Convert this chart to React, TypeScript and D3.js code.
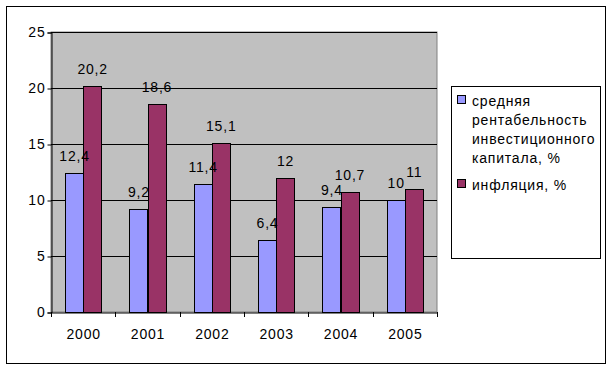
import React, { useEffect, useRef } from 'react';
import * as d3 from 'd3';

const years = ['2000', '2001', '2002', '2003', '2004', '2005'];
const returnOnCapital = [12.4, 9.2, 11.4, 6.4, 9.4, 10];
const inflation = [20.2, 18.6, 15.1, 12, 10.7, 11];
const yTicks = [0, 5, 10, 15, 20, 25];

const seriesNames = ['средняя рентабельность инвестиционного капитала, %', 'инфляция, %'];
const legendLines = [
  ['средняя', 'рентабельность', 'инвестиционного', 'капитала, %'],
  ['инфляция, %'],
];
const colors = ['#9999FF', '#993366'];

const fmt = (v: number) => String(v).replace('.', ',');

function App() {
  const ref = useRef<SVGSVGElement>(null);

  useEffect(() => {
    const svg = d3.select(ref.current);
    svg.selectAll('*').remove();

    const font = 'Liberation Sans, Arial, sans-serif';
    const spacing = 0.8;
    const plot = { left: 51, top: 32, right: 437, bottom: 312 };

    // outer chart frame
    svg.append('rect')
      .attr('x', 6.5).attr('y', 6.5)
      .attr('width', 599).attr('height', 357)
      .attr('fill', '#fff').attr('stroke', '#000').attr('stroke-width', 1);

    const x = d3.scaleBand().domain(years).range([plot.left, plot.right]);
    const y = d3.scaleLinear().domain([0, 25]).range([plot.bottom, plot.top]);
    const inner = d3.scaleBand().domain(['0', '1'])
      .range([0, x.bandwidth()]).paddingInner(0).paddingOuter(0.78);

    svg.append('rect')
      .attr('x', plot.left).attr('y', plot.top)
      .attr('width', plot.right - plot.left).attr('height', plot.bottom - plot.top)
      .attr('fill', '#C0C0C0').attr('stroke', '#808080');

    // gridlines
    svg.append('g').selectAll('line')
      .data(yTicks.filter((t) => t > 0))
      .enter().append('line')
      .attr('x1', plot.left).attr('x2', plot.right)
      .attr('y1', (d) => Math.round(y(d)) + 0.5).attr('y2', (d) => Math.round(y(d)) + 0.5)
      .attr('stroke', '#000');

    // axes
    const yAxis = svg.append('g').attr('transform', `translate(${plot.left + 0.5},0.5)`)
      .call(d3.axisLeft(y).tickValues(yTicks).tickSize(4).tickPadding(2).tickFormat((d) => String(d)));
    const xAxis = svg.append('g').attr('transform', `translate(0.5,${plot.bottom + 0.5})`)
      .call(d3.axisBottom(x).tickSize(0).tickPadding(17));
    [yAxis, xAxis].forEach((g) => {
      g.select('.domain').attr('stroke', '#000');
      g.selectAll('text').attr('font-family', font).attr('font-size', 14)
        .attr('letter-spacing', spacing).attr('fill', '#000');
    });
    // category separator ticks
    svg.append('g').selectAll('line')
      .data(years.map((yr) => x(yr) as number).concat([plot.right]))
      .enter().append('line')
      .attr('x1', (d) => Math.round(d) + 0.5).attr('x2', (d) => Math.round(d) + 0.5)
      .attr('y1', plot.bottom).attr('y2', plot.bottom + 5)
      .attr('stroke', '#000');

    const seriesData = [returnOnCapital, inflation];
    const barX = (i: number, s: number) => (x(years[i]) as number) + (inner(String(s)) as number);

    // bars first
    seriesData.forEach((vals, s) => {
      svg.append('g').selectAll('rect')
        .data(vals)
        .enter().append('rect')
        .attr('x', (_, i) => Math.round(barX(i, s)) + 0.5)
        .attr('y', (d) => Math.round(y(d)) + 0.5)
        .attr('width', Math.round(inner.bandwidth()))
        .attr('height', (d) => Math.round(y(0)) - Math.round(y(d)))
        .attr('fill', colors[s]).attr('stroke', '#000');
    });
    // then value labels on top
    seriesData.forEach((vals, s) => {
      svg.append('g').selectAll('text')
        .data(vals)
        .enter().append('text')
        .attr('x', (_, i) => barX(i, s) + inner.bandwidth() / 2 + spacing / 2)
        .attr('y', (d) => y(d) - 12)
        .attr('text-anchor', 'middle')
        .attr('font-family', font).attr('font-size', 14).attr('letter-spacing', spacing)
        .text((d) => fmt(d));
    });

    // legend
    const lg = svg.append('g');
    lg.append('rect')
      .attr('x', 451.5).attr('y', 86.5).attr('width', 149).attr('height', 172)
      .attr('fill', '#fff').attr('stroke', '#000');
    const lineH = 19;
    let ly = 106;
    legendLines.forEach((lines, s) => {
      lg.append('rect')
        .attr('x', 457.5).attr('y', ly - 10.5).attr('width', 8).attr('height', 8)
        .attr('fill', colors[s]).attr('stroke', '#000')
        .append('title').text(seriesNames[s]);
      lines.forEach((line, k) => {
        lg.append('text')
          .attr('x', 472).attr('y', ly + k * lineH)
          .attr('font-family', font).attr('font-size', 14).attr('letter-spacing', spacing)
          .text(line);
      });
      ly += lines.length * lineH + 8;
    });
  }, []);

  return <svg ref={ref} width={614} height={370} style={{ position: 'absolute', left: 0, top: 0 }} />;
}

export default App;
